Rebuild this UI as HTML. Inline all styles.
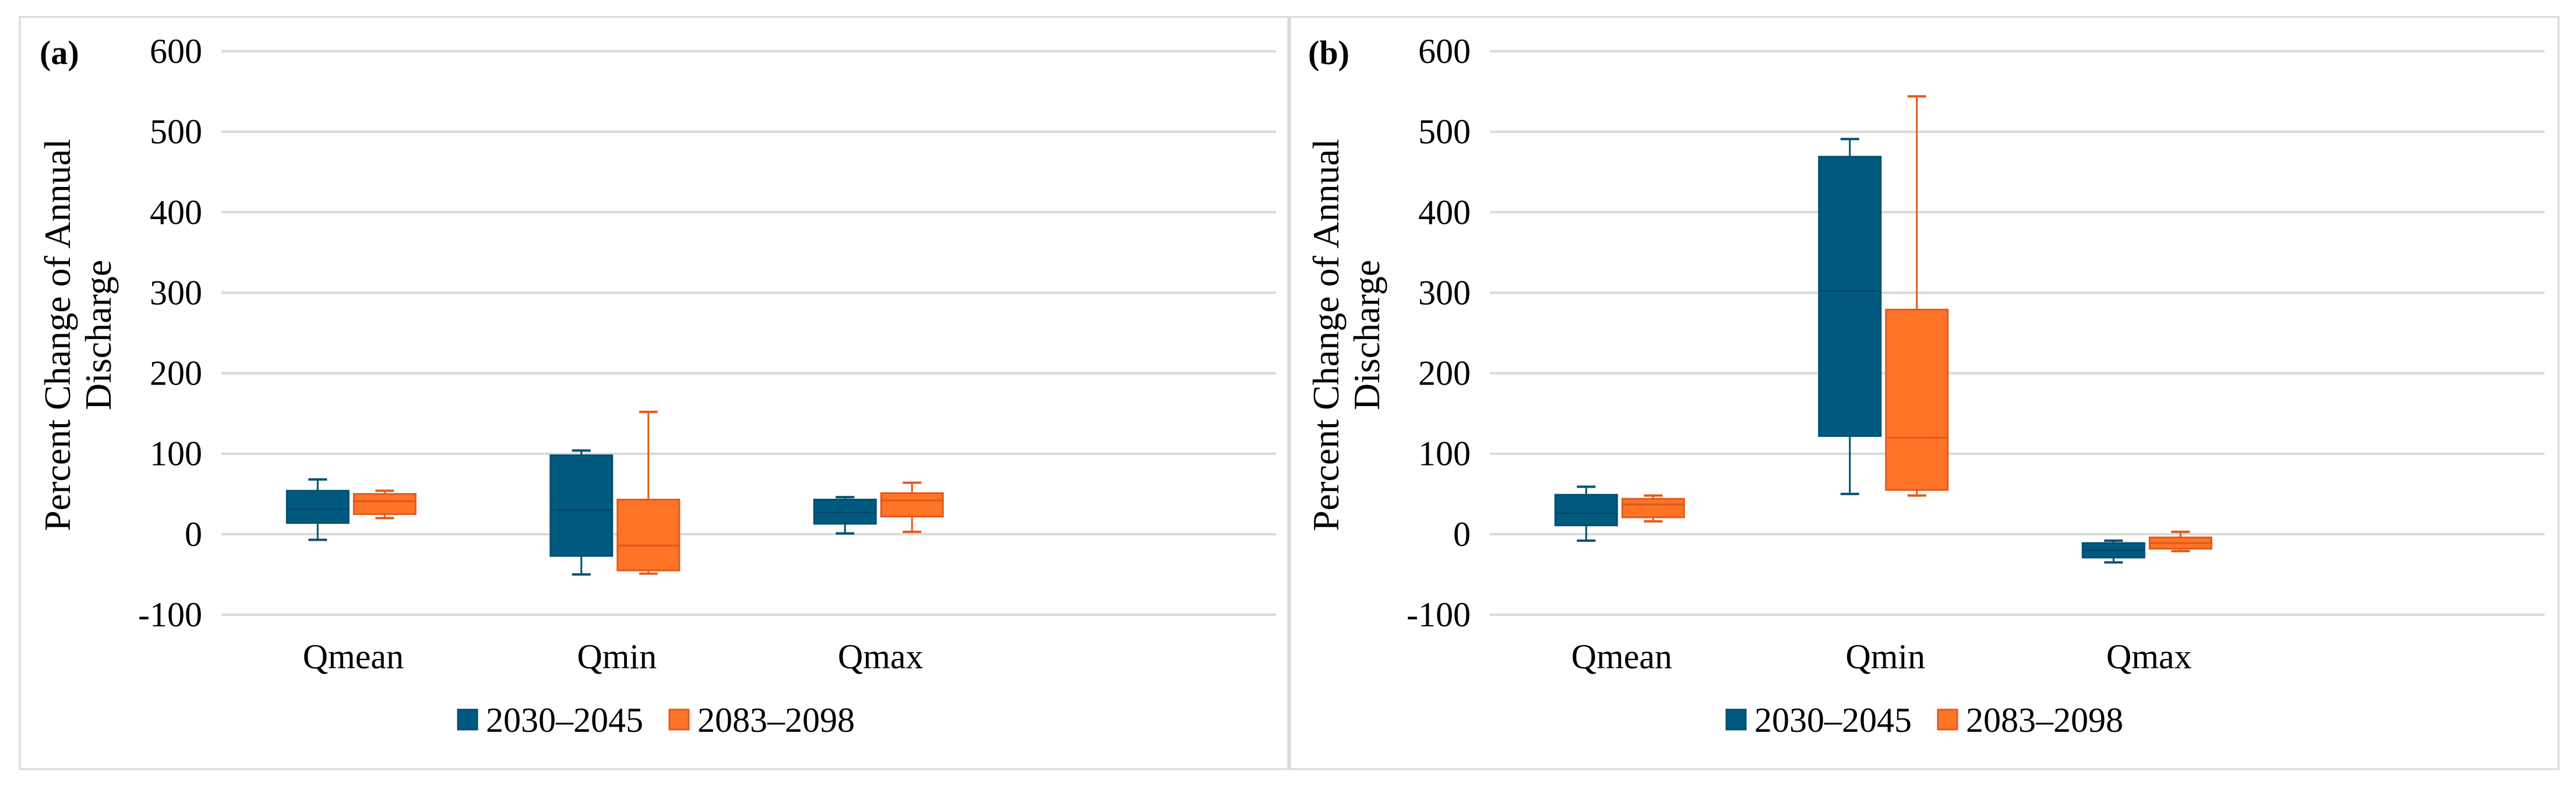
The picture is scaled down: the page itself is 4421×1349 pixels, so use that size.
<!DOCTYPE html>
<html><head><meta charset="utf-8">
<style>
html,body{margin:0;padding:0;background:#fff;}
svg{display:block;font-family:"Liberation Serif","Times New Roman",serif;}
svg text{font-family:"Liberation Serif","Times New Roman",serif;fill:#000;}
</style></head>
<body>
<svg id="chart" width="4421" height="1349" viewBox="0 0 4421 1349" xmlns="http://www.w3.org/2000/svg" font-family="Liberation Serif, serif"></svg>
<script>
const categories = ["Qmean","Qmin","Qmax"];
const seriesNames = ["2030–2045","2083–2098"];
const yTicks = [-100,0,100,200,300,400,500,600];
// [min, q1, median, q3, max] per category
const aEarly = [[-7,14,31,54,68],[-50,-27,30,98,104],[1,13,27,43,46]];
const aLate  = [[20,25,41,50,54],[-49,-45,-14,43,152],[3,22,42,51,64]];
const bEarly = [[-8,11,26,49,59],[50,122,302,469,491],[-35,-29,-20,-11,-8]];
const bLate  = [[16,21,37,44,48],[48,55,120,279,544],[-21,-18,-11,-4,3]];

const svg = document.getElementById('chart');
const NS = "http://www.w3.org/2000/svg";
const FONT = '"Liberation Serif", "Times New Roman", serif';
function mk(tag, attrs, parent){
  const e = document.createElementNS(NS, tag);
  for (const k in attrs) e.setAttribute(k, attrs[k]);
  if (tag === 'text') e.setAttribute('font-family', FONT);
  (parent||svg).appendChild(e);
  return e;
}
const colors = [{fill:"#005a80",stroke:"#004f70",med:"#00486a"},{fill:"#ff7427",stroke:"#e05a1c",med:"#d9581c"}];

function panel(id, ox, label, early, late){
  const g = mk('g', {});
  
  
  const frame = mk('rect', {x: ox+34, y: 29, width: 2180, height: 1291, fill:'none', stroke:'#d9d9d9', 'stroke-width':3}, g);
  
  
  const L = ox + 380, R = ox + 2190, top = 88, bot = 1055;
  const ymin = -100, ymax = 600;
  const y = v => bot - (v - ymin) / (ymax - ymin) * (bot - top);
  const nCat = 4;
  const cw = (R - L) / nCat;
  const xc = i => L + cw * (i + 0.5);
  yTicks.forEach(t => {
    const ln = mk('line', {x1:L, x2:R, y1:y(t), y2:y(t), stroke:'#d9d9d9', 'stroke-width':4}, g);
    
    
    const tx = mk('text', {x: L-33, y: y(t)+20, 'text-anchor':'end', 'font-size':60}, g);
    tx.textContent = t;
    
    
  });
  const pl = mk('text', {x: ox+68, y: 110, 'font-size':58, 'font-weight':'bold'}, g);
  pl.textContent = label;
  
  
  const yt = mk('text', {transform:`translate(${ox+120},575) rotate(-90)`, 'text-anchor':'middle', 'font-size':64}, g);
  
  
  const t1 = mk('tspan', {x:0, y:0}, yt); t1.textContent = 'Percent Change of Annual';
  const t2 = mk('tspan', {x:0, y:70}, yt); t2.textContent = 'Discharge';
  categories.forEach((c, i) => {
    const tx = mk('text', {x: xc(i), y: 1147, 'text-anchor':'middle', 'font-size':60}, g);
    tx.textContent = c;
    
    
    [early, late].forEach((ser, s) => {
      const d = ser[i];
      const col = colors[s];
      const cx = xc(i) + (s === 0 ? -61 : 54);
      const bw = 106;
      const bg = mk('g', {}, g);
      
      
      mk('line', {x1:cx, x2:cx, y1:y(d[4]), y2:y(d[3]), stroke:col.stroke, 'stroke-width':3}, bg);
      mk('line', {x1:cx, x2:cx, y1:y(d[1]), y2:y(d[0]), stroke:col.stroke, 'stroke-width':3}, bg);
      mk('line', {x1:cx-16, x2:cx+16, y1:y(d[4]), y2:y(d[4]), stroke:col.stroke, 'stroke-width':4}, bg);
      mk('line', {x1:cx-16, x2:cx+16, y1:y(d[0]), y2:y(d[0]), stroke:col.stroke, 'stroke-width':4}, bg);
      mk('rect', {x:cx-bw/2, y:y(d[3]), width:bw, height:y(d[1])-y(d[3]), fill:col.fill, stroke:col.stroke, 'stroke-width':3}, bg);
      mk('line', {x1:cx-bw/2, x2:cx+bw/2, y1:y(d[2]), y2:y(d[2]), stroke:col.med, 'stroke-width':3}, bg);
    });
  });
  const lg = mk('g', {}, g);
  
  
  const lx = [ox+786, ox+1149];
  seriesNames.forEach((n, s) => {
    const r = mk('rect', {x: lx[s], y: 1218, width: 33, height: 34, fill: colors[s].fill, stroke: colors[s].stroke, 'stroke-width':3}, lg);
    
    
    const t = mk('text', {x: lx[s]+48, y: 1256, 'font-size':60}, lg);
    t.textContent = n;
    
    
  });
}
panel('a', 0, '(a)', aEarly, aLate);
panel('b', 2177, '(b)', bEarly, bLate);
</script>
</body></html>
